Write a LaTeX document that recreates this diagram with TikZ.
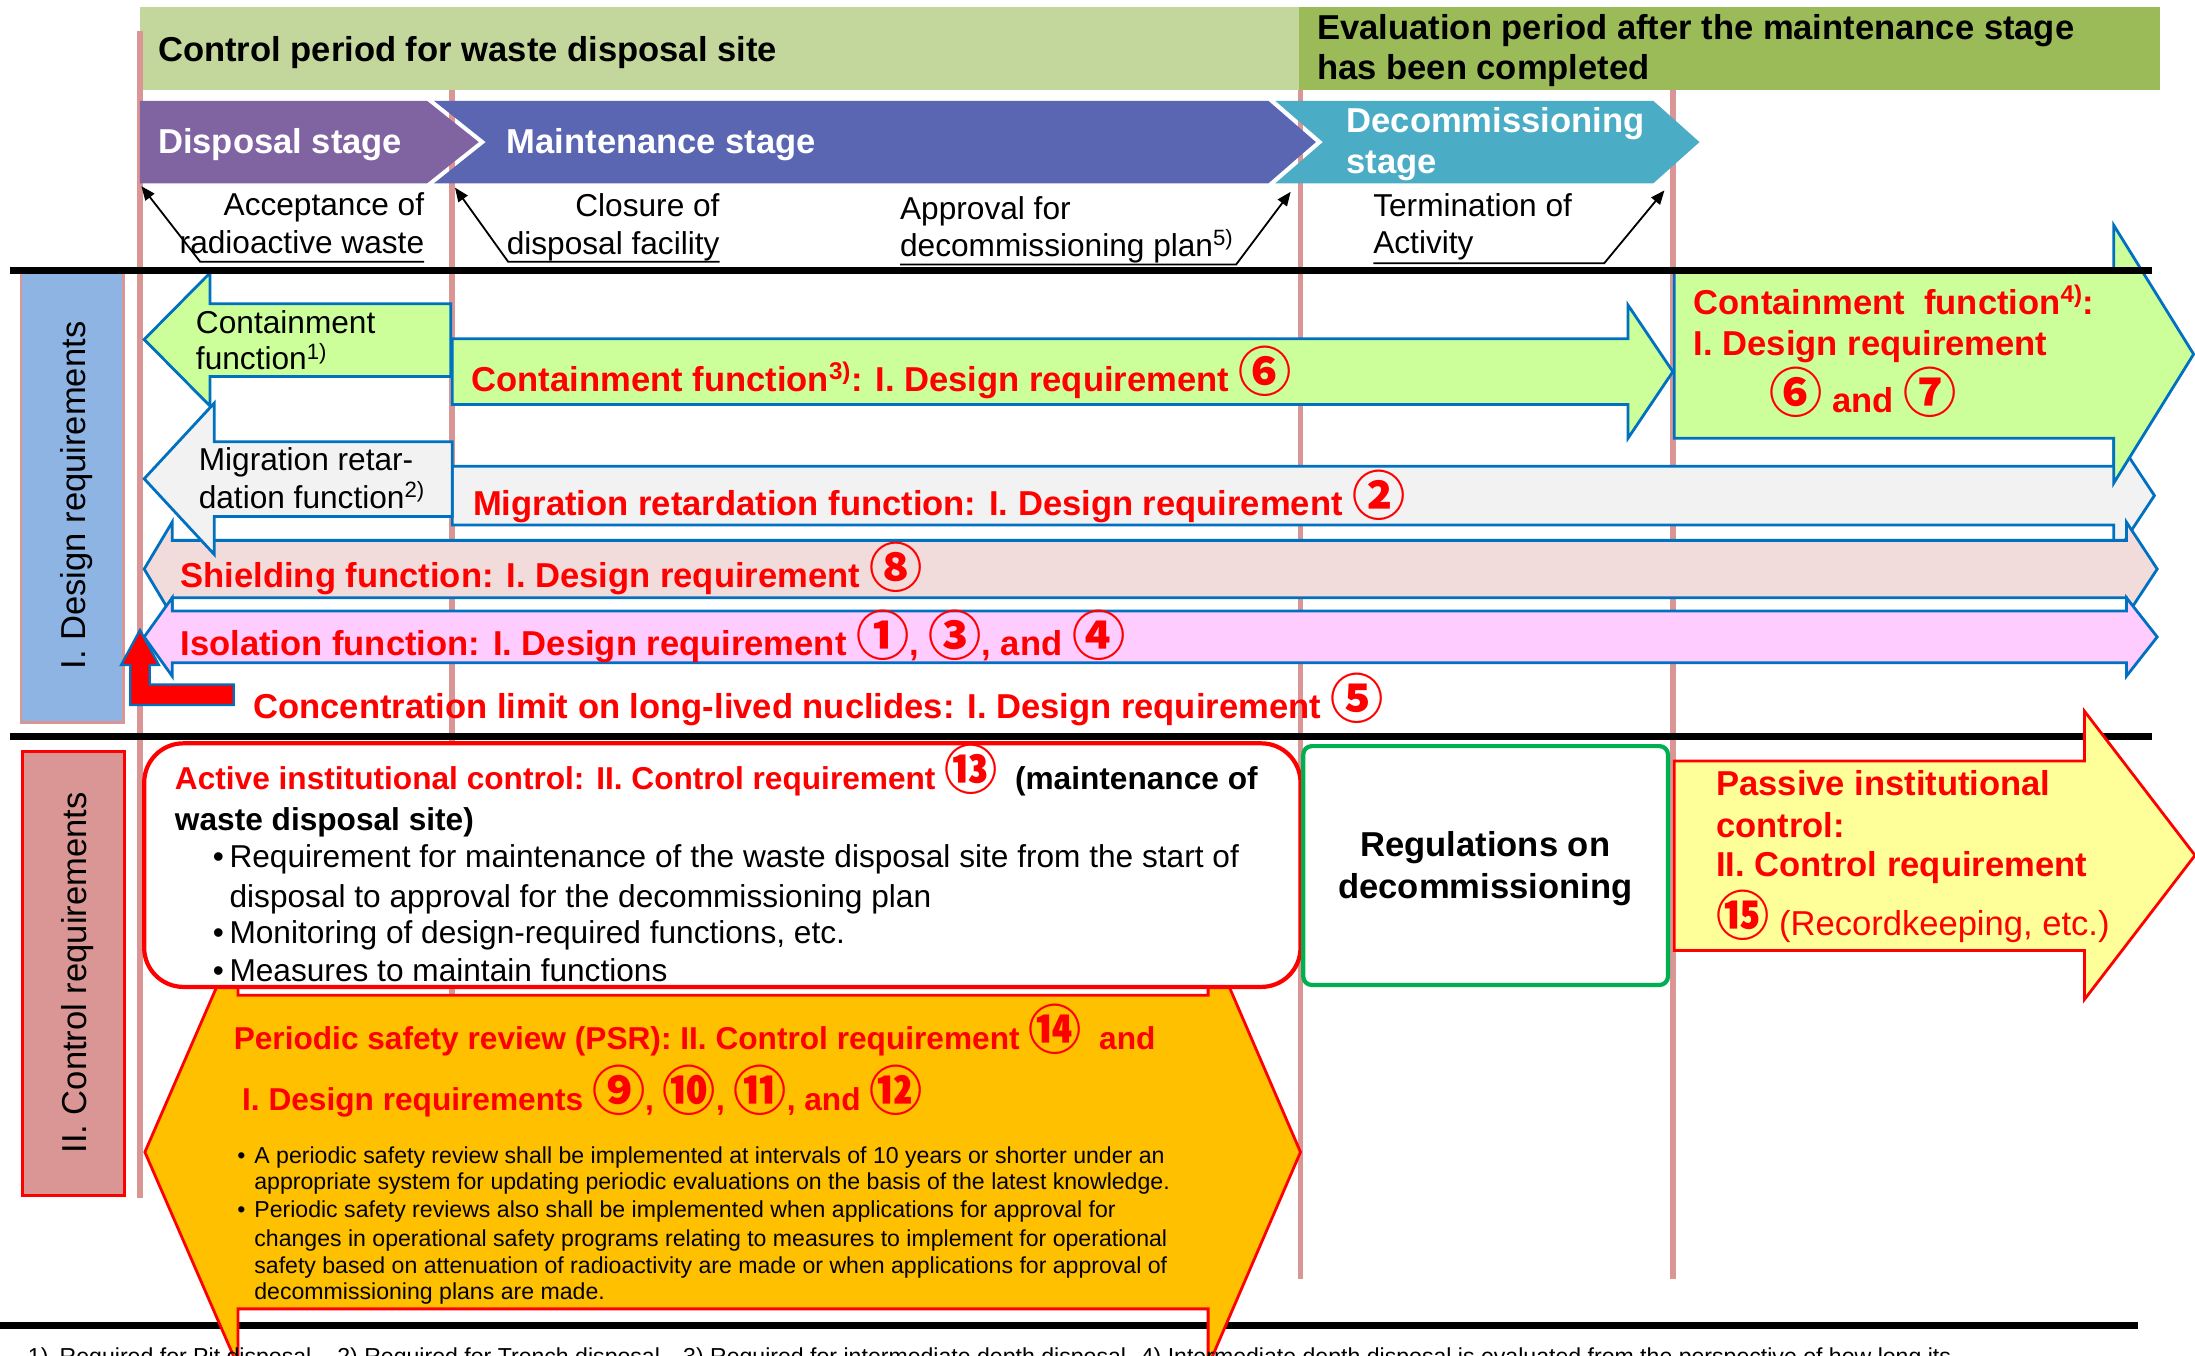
\documentclass[tikz,border=0pt]{standalone}
\usepackage{fontspec}
\setmainfont{Liberation Sans}
\newfontfamily\cjk{Noto Sans CJK JP}
\usetikzlibrary{arrows.meta}
\definecolor{hdrA}{HTML}{C3D69B}
\definecolor{hdrB}{HTML}{9BBB59}
\definecolor{stgA}{HTML}{8064A2}
\definecolor{stgB}{HTML}{5A66B2}
\definecolor{stgC}{HTML}{4BACC6}
\definecolor{vpink}{HTML}{D99694}
\definecolor{dblue}{HTML}{8EB4E3}
\definecolor{abord}{HTML}{0070C0}
\definecolor{agreen}{HTML}{CCFF99}
\definecolor{agray}{HTML}{F2F2F2}
\definecolor{ashield}{HTML}{F2DCDB}
\definecolor{aiso}{HTML}{FFCCFF}
\definecolor{psr}{HTML}{FFC000}
\definecolor{pyel}{HTML}{FFFF99}
\definecolor{rgreen}{HTML}{00B050}
\definecolor{rred}{HTML}{FF0000}
\newcommand\cn[1]{{\cjk\fontsize{38}{38}\selectfont #1}}
\begin{document}
\begin{tikzpicture}[x=1pt,y=-1pt,
  tl/.style={anchor=base west, inner sep=0pt, outer sep=0pt},
  tc/.style={anchor=base, inner sep=0pt, outer sep=0pt},
  tr/.style={anchor=base east, inner sep=0pt, outer sep=0pt},
  bigb/.style={font=\bfseries\fontsize{24.7}{29}\selectfont},
  bigr/.style={font=\fontsize{24.6}{29}\selectfont},
  midb/.style={font=\bfseries\fontsize{22.6}{27}\selectfont},
  midr/.style={font=\fontsize{22.6}{27}\selectfont},
  smallr/.style={font=\fontsize{16.5}{20}\selectfont},
  redb/.style={tl, bigb, text=rred},
  arr/.style={draw=abord, line width=2pt, line join=miter},
  callout/.style={draw=black, line width=1.3pt, -{Triangle[length=10pt,width=8pt]}},
  vline/.style={draw=vpink, line width=4pt},
  rulel/.style={draw=black, line width=5pt},
]
\useasboundingbox (0,0) rectangle (1568,968);
\begin{scope}
\clip (0,0) rectangle (1568,968);

% header bands
\fill[hdrA] (100,5) rectangle (928,64);
\fill[hdrB] (928,5) rectangle (1543,64);
\node[tl, bigb] (hA) at (113,44) {Control period for waste disposal site};
\node[tl, bigb] (hB1) at (941,28.5) {Evaluation period after the maintenance stage};
\node[tl, bigb] (hB2) at (941,57) {has been completed};

% vertical period lines
\draw[vline] (100,22) -- (100,856);
\draw[vline] (323,64) -- (323,856);
\draw[vline] (929,64) -- (929,914);
\draw[vline] (1195,64) -- (1195,914);

% stage chevrons
\fill[stgA] (100,72) -- (305,72) -- (342,101.5) -- (305,131) -- (100,131) -- cycle;
\fill[stgB] (310,72) -- (906,72) -- (940,101.5) -- (906,131) -- (310,131) -- (347,101.5) -- cycle;
\fill[stgC] (911,72) -- (1181,72) -- (1214,101.5) -- (1181,131) -- (911,131) -- (945,101.5) -- cycle;
\node[tl, bigb, text=white] (s1) at (113,110) {Disposal stage};
\node[tl, bigb, text=white] (s2) at (362,110) {Maintenance stage};
\node[tl, bigb, text=white] (s3a) at (962,95) {Decommissioning};
\node[tl, bigb, text=white] (s3b) at (962,124) {stage};

% event labels
\node[tr, midr] (e1a) at (303,153.6) {Acceptance of};
\node[tr, midr] (e1b) at (303,181) {radioactive waste};
\coordinate (e1u) at (303,187); \coordinate (e1k) at (143,187); \coordinate (e1t) at (101,133);
\draw[callout] (e1u) -- (e1k) -- (e1t);
\node[tr, midr] (e2a) at (514,155) {Closure of};
\node[tr, midr] (e2b) at (514,181.5) {disposal facility};
\coordinate (e2u) at (514,187); \coordinate (e2k) at (363,187); \coordinate (e2t) at (325,134);
\draw[callout] (e2u) -- (e2k) -- (e2t);
\node[tl, midr] (e3a) at (643,157) {Approval for};
\node[tl, midr] (e3b) at (643,183) {decommissioning plan\textsuperscript{5)}};
\coordinate (e3u) at (643,189); \coordinate (e3k) at (883,189); \coordinate (e3t) at (922,137);
\draw[callout] (e3u) -- (e3k) -- (e3t);
\node[tl, midr] (e4a) at (981,155) {Termination of};
\node[tl, midr] (e4b) at (981,181) {Activity};
\coordinate (e4u) at (981,188); \coordinate (e4k) at (1146,188); \coordinate (e4t) at (1189,136);
\draw[callout] (e4u) -- (e4k) -- (e4t);

% left labels
\draw[fill=dblue, draw=vpink, line width=2pt] (15,195) rectangle (88,516);
\node[tc, rotate=90, font=\fontsize{24.7}{29}\selectfont] (dlab) at (61,354) {I. Design requirements};
\draw[fill=vpink, draw=rred, line width=2pt] (16,537) rectangle (89,854);
\node[tc, rotate=90, font=\fontsize{24.7}{29}\selectfont] (clab) at (62,695) {II. Control requirements};

% design arrows
\draw[arr, fill=agreen] (322,217) -- (150,217) -- (150,195) -- (103,242.5) -- (150,290) -- (150,269) -- (322,269) -- cycle;
\node[tl, midr] (lg1) at (140,238) {Containment};
\node[tl, midr] (lg2) at (140,264) {function\textsuperscript{1)}};
\draw[arr, fill=agreen] (323,242) -- (1163,242) -- (1163,218) -- (1195,265.5) -- (1163,313) -- (1163,289) -- (323,289) -- cycle;
\node[redb] (rg) at (337,280) {Containment function\textsuperscript{3)}: I. Design requirement \cn{⑥}};

\draw[arr, fill=agray] (323,333) -- (1510,333) -- (1510,310) -- (1539,354) -- (1510,398) -- (1510,375) -- (323,375) -- cycle;
\node[redb] (rgr) at (338,368) {Migration retardation function: I. Design requirement \cn{②}};

\draw[arr, fill=agreen] (1196,193) -- (1510,193) -- (1510,161) -- (1567,253) -- (1510,345) -- (1510,313) -- (1196,313) -- cycle;
\node[redb] (bg1) at (1210,225) {Containment\ \ function\textsuperscript{4)}:};
\node[redb] (bg2) at (1210,253.6) {I. Design requirement};
\node[redb] (bg3) at (1264,295) {\cn{⑥} and \cn{⑦}};

\draw[arr, fill=ashield] (103,406.5) -- (123,373) -- (123,386) -- (1519,386) -- (1519,373) -- (1541,406.5) -- (1519,440) -- (1519,427) -- (123,427) -- (123,440) -- cycle;
\node[redb] (sh) at (129,420) {Shielding function: I. Design requirement \cn{⑧}};

\draw[arr, fill=agray] (323,315.5) -- (153,315.5) -- (153,288) -- (103,342) -- (153,396) -- (153,369) -- (323,369) -- cycle;
\node[tl, midr] (lgr1) at (142,336) {Migration retar-};
\node[tl, midr] (lgr2) at (142,363) {dation function\textsuperscript{2)}};

\draw[arr, fill=aiso] (103,455) -- (123,427) -- (123,436.5) -- (1519,436.5) -- (1519,427) -- (1541,455) -- (1519,483) -- (1519,473.5) -- (123,473.5) -- (123,483) -- cycle;
\node[redb] (iso) at (129,468) {Isolation function: I. Design requirement \cn{①}, \cn{③}, and \cn{④}};

\draw[fill=rred, draw=abord, line width=1.6pt] (100,450) -- (113.5,475) -- (107,475) -- (107,489) -- (167,489) -- (167,503.6) -- (93,503.6) -- (93,475) -- (86.5,475) -- cycle;
\node[redb] (conc) at (181,513) {Concentration limit on long-lived nuclides: I. Design requirement \cn{⑤}};

% section rules
\draw[rulel] (7,193) -- (1537,193);
\draw[rulel] (7,526) -- (1537,526);
\draw[rulel] (0,947) -- (1527,947);

% control section
\draw[fill=psr, draw=rred, line width=2pt, line join=miter] (170,711) -- (863,711) -- (863,670) -- (929,823) -- (863,976) -- (863,935) -- (170,935) -- (170,976) -- (103.5,823) -- (170,670) -- cycle;
\node[tl, midb, text=rred] (ps1) at (167,750) {Periodic safety review (PSR): II. Control requirement \cn{⑭}\ \ and};
\node[tl, midb, text=rred] (ps2) at (173,793) {I. Design requirements \cn{⑨}, \cn{⑩}, \cn{⑪}, and \cn{⑫}};
\node[tl, smallr] (pb1) at (169.5,831) {\makebox[12.2pt][l]{•}A periodic safety review shall be implemented at intervals of 10 years or shorter under an};
\node[tl, smallr] (pb2) at (181.7,850) {appropriate system for updating periodic evaluations on the basis of the latest knowledge.};
\node[tl, smallr] (pb3) at (169.5,870) {\makebox[12.2pt][l]{•}Periodic safety reviews also shall be implemented when applications for approval for};
\node[tl, smallr] (pb4) at (181.7,890.5) {changes in operational safety programs relating to measures to implement for operational};
\node[tl, smallr] (pb5) at (181.7,909.5) {safety based on attenuation of radioactivity are made or when applications for approval of};
\node[tl, smallr] (pb6) at (181.7,928.6) {decommissioning plans are made.};

\draw[fill=white, draw=rred, line width=3pt, rounded corners=28pt] (103,531) rectangle (929,705);
\node[tl, midb] (ab1) at (125,564) {\textcolor{rred}{Active institutional control: II. Control requirement \cn{⑬}}\ \ (maintenance of};
\node[tl, midb] (ab2) at (125,593) {waste disposal site)};
\node[tl, midr] (ab3) at (152,620) {\makebox[12pt][l]{•}Requirement for maintenance of the waste disposal site from the start of};
\node[tl, midr] (ab4) at (164,648) {disposal to approval for the decommissioning plan};
\node[tl, midr] (ab5) at (152,674) {\makebox[12pt][l]{•}Monitoring of design-required functions, etc.};
\node[tl, midr] (ab6) at (152,701) {\makebox[12pt][l]{•}Measures to maintain functions};

\draw[fill=white, draw=rgreen, line width=3pt, rounded corners=6pt] (931,533) rectangle (1191.5,703.6);
\node[tc, bigb] (rb1) at (1061,612) {Regulations on};
\node[tc, bigb] (rb2) at (1061,641.6) {decommissioning};

\draw[fill=pyel, draw=rred, line width=2pt, line join=miter] (1196,543.6) -- (1489,543.6) -- (1489,508) -- (1568,611) -- (1489,714) -- (1489,679) -- (1196,679) -- cycle;
\node[redb] (pa1) at (1226,568) {Passive institutional};
\node[redb] (pa2) at (1226,598) {control:};
\node[redb] (pa3) at (1226,626) {II. Control requirement};
\node[redb] (pa4) at (1226,668) {\cn{⑮}\ \mdseries(Recordkeeping, etc.)};

% footnote (cut by the picture edge)
\node[tl, smallr] (fn) at (20,975) {1)\hspace{8pt}Required for Pit disposal.\hspace{14pt}2) Required for Trench disposal.\hspace{12pt}3) Required for intermediate depth disposal.\hspace{6pt}4) Intermediate depth disposal is evaluated from the perspective of how long its};
\end{scope}
\end{tikzpicture}
\end{document}
